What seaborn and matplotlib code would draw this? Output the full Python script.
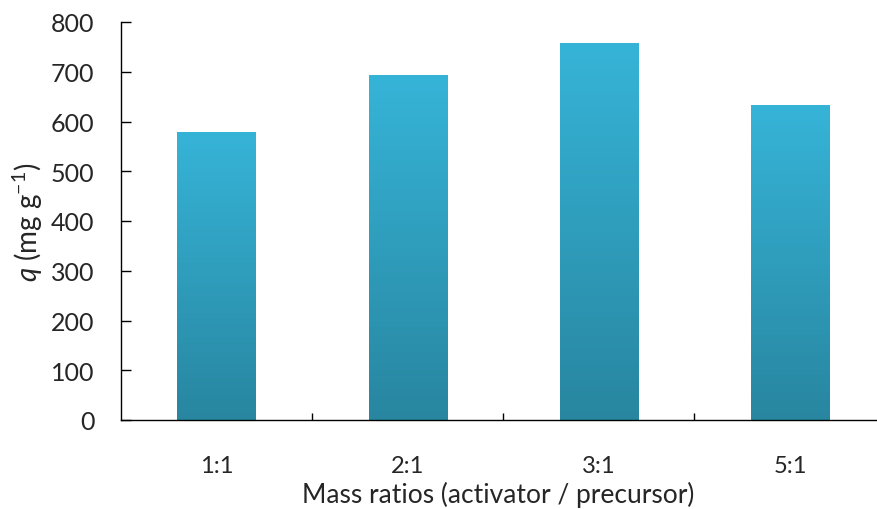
import numpy as np
import pandas as pd
import matplotlib
matplotlib.use("Agg")
import matplotlib.pyplot as plt
from matplotlib.colors import LinearSegmentedColormap
import seaborn as sns

ratios = ["1:1", "2:1", "3:1", "5:1"]
q_values = [579, 693, 758, 633]

sns.set_theme(style="white")
plt.rcParams["font.family"] = ["Lato", "DejaVu Sans"]
plt.rcParams["mathtext.fontset"] = "custom"
plt.rcParams["mathtext.rm"] = "Lato"
plt.rcParams["mathtext.it"] = "Lato:italic"

df = pd.DataFrame({"ratio": ratios, "q": q_values})

fig = plt.figure(figsize=(8.77, 5.10), dpi=100)
ax = fig.add_axes([121 / 877, 1 - 421 / 510, (876 - 121) / 877, (421 - 23) / 510])

sns.barplot(data=df, x="ratio", y="q", ax=ax, width=0.41, color="#36b3d6",
            edgecolor="none", saturation=1)

# vertical gradient inside each bar
grad = LinearSegmentedColormap.from_list("bar", ["#2886a0", "#36b4d8"])
for patch in ax.patches:
    x0, y0 = patch.get_x(), patch.get_y()
    w, h = patch.get_width(), patch.get_height()
    img = ax.imshow(np.linspace(0, 1, 256).reshape(-1, 1), cmap=grad, aspect="auto",
                    origin="lower", extent=[x0, x0 + w, y0, y0 + h], zorder=patch.get_zorder())
    img.set_clip_path(patch)
    patch.set_facecolor("none")
    ax.plot([x0, x0 + w], [0, 0], color="#1f6f82", lw=1.5, zorder=3, solid_capstyle="butt")

ax.set_xlim(-0.5, 3.45)
ax.set_ylim(0, 800)
ax.set_yticks(range(0, 801, 100))

for s in ["top", "right"]:
    ax.spines[s].set_visible(False)
for s in ["left", "bottom"]:
    ax.spines[s].set_color("black")
    ax.spines[s].set_linewidth(1)

ax.tick_params(axis="y", direction="in", length=7, width=1, color="black",
               labelsize=18, pad=19, left=True)
ax.tick_params(axis="x", length=0, labelsize=17, pad=25)
ax.set_xticks(np.arange(0.5, 3.5, 1.0), minor=True)
ax.tick_params(axis="x", which="minor", direction="in", length=5, width=1,
               color="black", bottom=True)

ax.set_xlabel("Mass ratios (activator / precursor)", fontsize=19, labelpad=4)
ax.set_ylabel(r"$\it{q}$ (mg g$^{-1}$)", fontsize=20, labelpad=4)

fig.savefig("out.png", dpi=100)
